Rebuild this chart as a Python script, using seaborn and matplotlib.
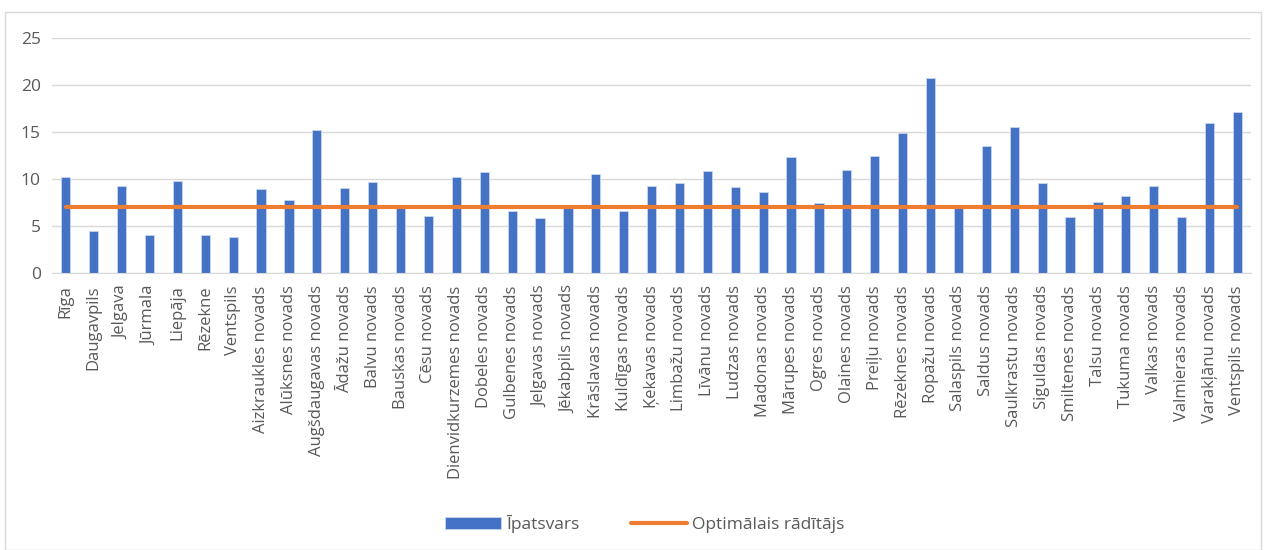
import pandas as pd
import numpy as np
import matplotlib.pyplot as plt
import seaborn as sns
from matplotlib.patches import Rectangle

# data
categories = ['Rīga', 'Daugavpils', 'Jelgava', 'Jūrmala', 'Liepāja', 'Rēzekne', 'Ventspils',
              'Aizkraukles novads', 'Alūksnes novads', 'Augšdaugavas novads', 'Ādažu novads',
              'Balvu novads', 'Bauskas novads', 'Cēsu novads', 'Dienvidkurzemes novads',
              'Dobeles novads', 'Gulbenes novads', 'Jelgavas novads', 'Jēkabpils novads',
              'Krāslavas novads', 'Kuldīgas novads', 'Ķekavas novads', 'Limbažu novads',
              'Līvānu novads', 'Ludzas novads', 'Madonas novads', 'Mārupes novads',
              'Ogres novads', 'Olaines novads', 'Preiļu novads', 'Rēzeknes novads',
              'Ropažu novads', 'Salaspils novads', 'Saldus novads', 'Saulkrastu novads',
              'Siguldas novads', 'Smiltenes novads', 'Talsu novads', 'Tukuma novads',
              'Valkas novads', 'Valmieras novads', 'Varakļānu novads', 'Ventspils novads']
ipatsvars = [10.2, 4.4, 9.2, 4.0, 9.8, 4.0, 3.8,
             8.9, 7.8, 15.2, 9.0,
             9.7, 6.9, 6.0, 10.2,
             10.7, 6.6, 5.8, 7.0,
             10.5, 6.6, 9.2, 9.6,
             10.8, 9.1, 8.6, 12.3,
             7.4, 10.9, 12.4, 14.9,
             20.7, 6.9, 13.5, 15.5,
             9.6, 5.9, 7.5, 8.2,
             9.2, 5.9, 15.9, 17.1]
optimalais = [7.0] * len(categories)
y_ticks = [0, 5, 10, 15, 20, 25]

df = pd.DataFrame({'kat': categories, 'ipatsvars': ipatsvars, 'opt': optimalais})

sns.set_style('white')
plt.rcParams['font.family'] = ['Open Sans', 'DejaVu Sans']

fig = plt.figure(figsize=(12.64, 5.5), dpi=100)
ax = fig.add_axes([0.041, 0.504, 0.949, 0.427])

sns.barplot(data=df, x='kat', y='ipatsvars', color='#4472C4', width=0.33,
            edgecolor='#c9d6ee', linewidth=0.6, saturation=1, label='Īpatsvars', ax=ax)
sns.pointplot(data=df, x='kat', y='opt', color='#ED7D31', markers='', linestyles='-',
              label='Optimālais rādītājs', ax=ax)
for ln in ax.lines:
    ln.set_linewidth(3)
    ln.set_solid_capstyle('round')

ax.set_ylim(0, 25)
ax.set_yticks(y_ticks)
ax.set_xlim(-0.5, len(categories) - 0.5)
ax.yaxis.grid(True, color='#d9d9d9', linewidth=1)
ax.set_axisbelow(True)
for s in ['top', 'right', 'left']:
    ax.spines[s].set_visible(False)
ax.spines['bottom'].set_color('#d9d9d9')
ax.tick_params(axis='both', length=0, colors='#595959', labelsize=12)
ax.tick_params(axis='x', pad=9)
ax.tick_params(axis='y', pad=8, labelsize=12.5)
plt.setp(ax.get_xticklabels(), rotation=90)
ax.set_xlabel('')
ax.set_ylabel('')

handles, labels = ax.get_legend_handles_labels()
order = [labels.index('Īpatsvars'), labels.index('Optimālais rādītājs')]
ax.legend([handles[i] for i in order], [labels[i] for i in order],
          loc='center', bbox_to_anchor=(0.51, 0.047), bbox_transform=fig.transFigure,
          ncol=2, frameon=False, fontsize=12.5, labelcolor='#595959',
          handlelength=3.2, columnspacing=3, handletextpad=0.3)

fig.add_artist(Rectangle((0.004, 0.0), 0.994, 0.978, transform=fig.transFigure,
                         fill=False, edgecolor='#d9d9d9', linewidth=1))

fig.savefig('out.png', dpi=100)
